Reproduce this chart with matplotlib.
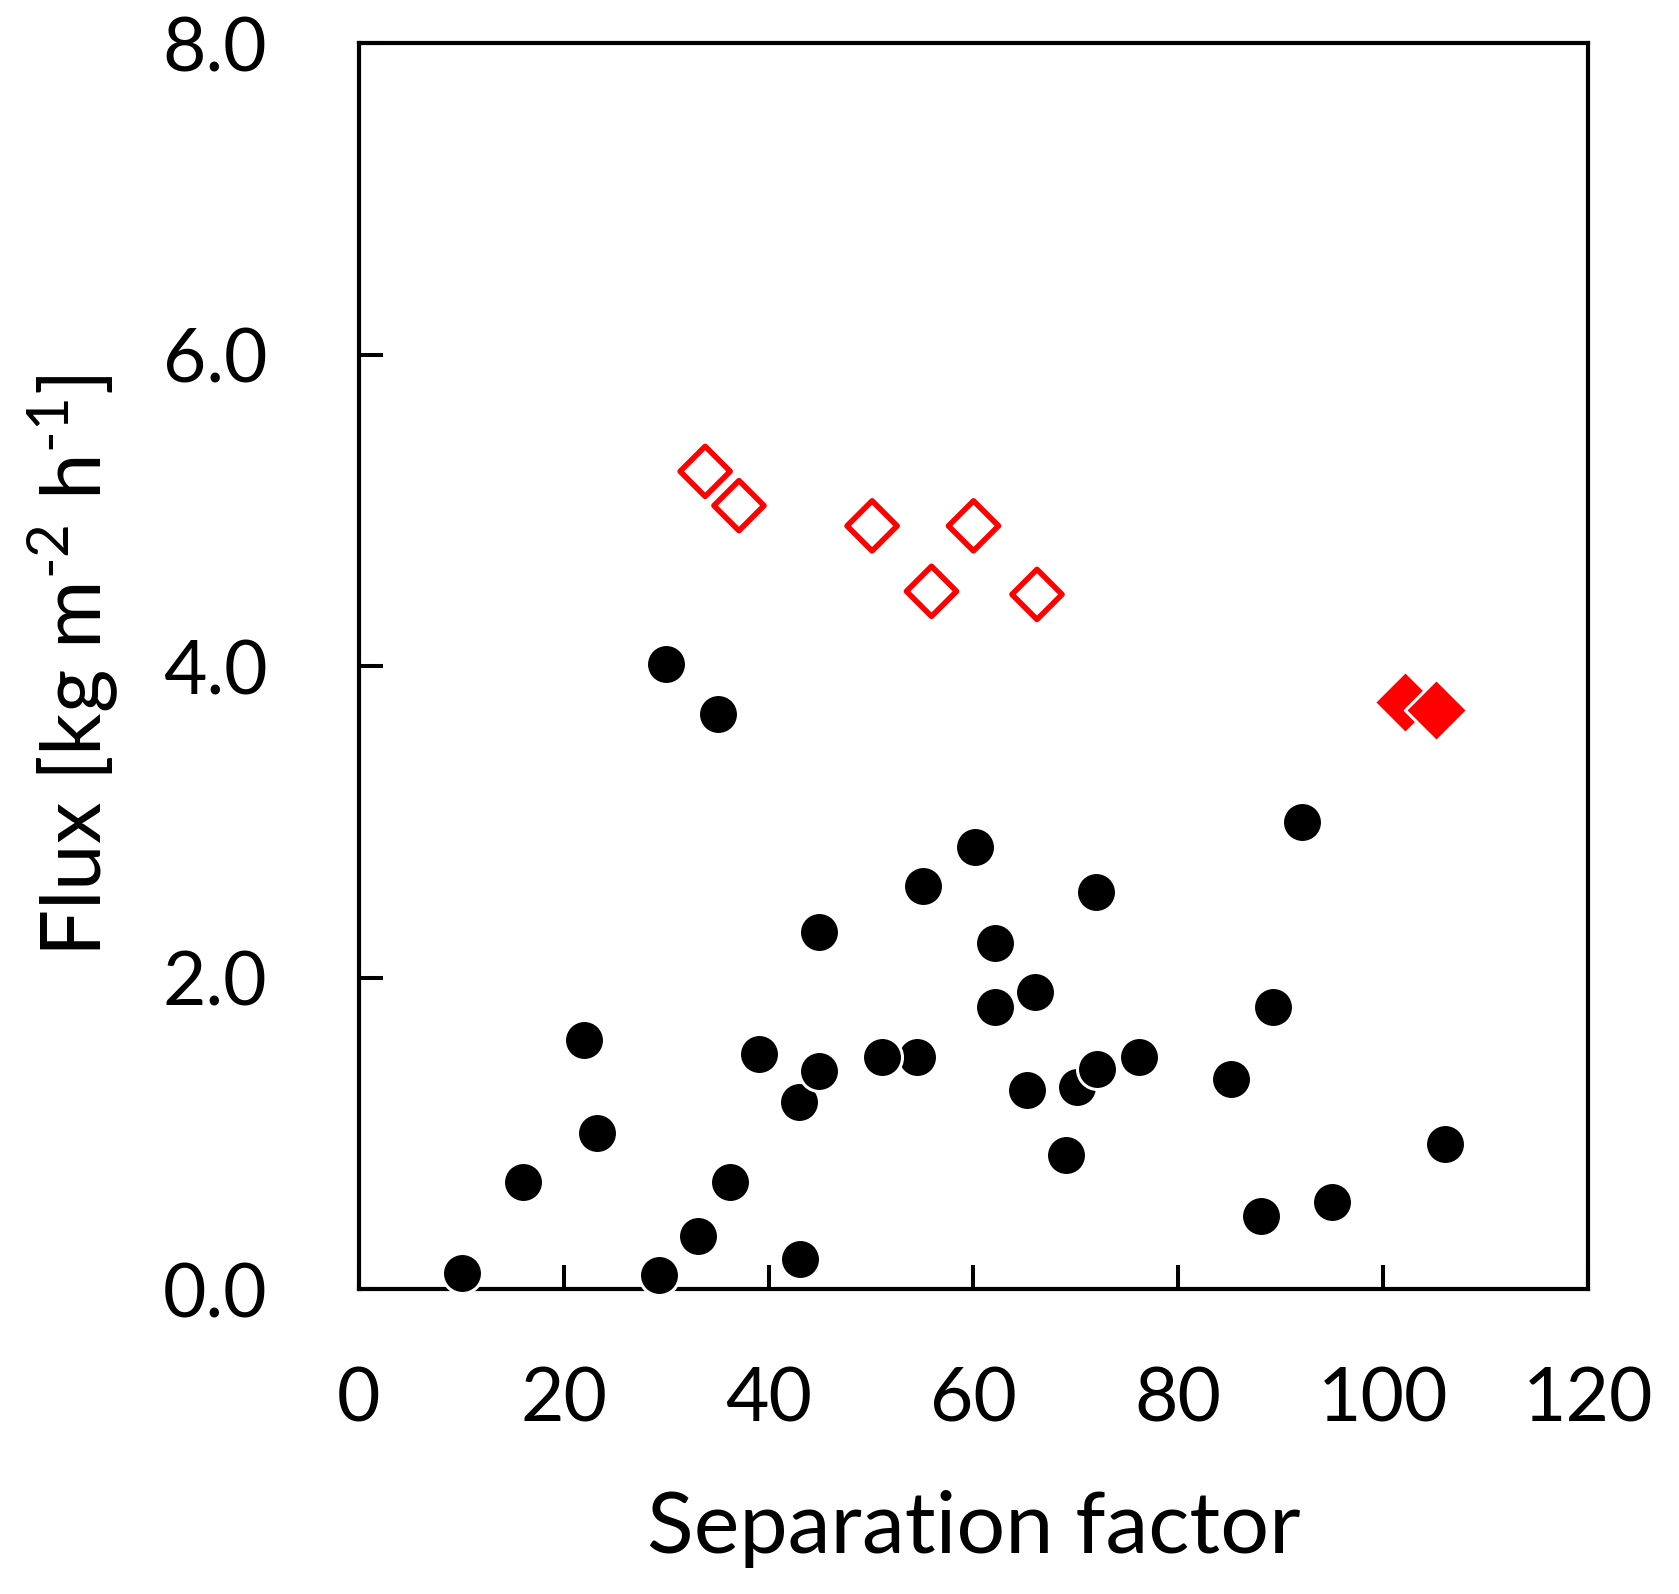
import matplotlib
matplotlib.use('Agg')
import matplotlib.pyplot as plt

# black circles (other membranes)
sep_autres = [10.1, 16.0, 22.0, 23.2, 29.3, 30.0, 33.1, 35.1, 36.2, 39.1, 43.0, 43.1, 44.9, 44.9,
              54.5, 51.1, 55.1, 60.1, 62.1, 62.1, 65.2, 66.0, 69.0, 70.1, 72.1, 72.0, 76.2,
              85.1, 88.1, 89.2, 92.1, 95.0, 106.0]
flux_autres = [0.10, 0.69, 1.60, 1.00, 0.09, 4.01, 0.34, 3.69, 0.69, 1.51, 1.20, 0.19, 1.40, 2.29,
               1.49, 1.49, 2.59, 2.84, 2.22, 1.81, 1.28, 1.91, 0.86, 1.30, 1.41, 2.55, 1.49,
               1.35, 0.47, 1.81, 3.00, 0.56, 0.93]

# red open diamonds
sep_ouvert = [33.8, 37.1, 50.1, 60.0, 55.9, 66.2]
flux_ouvert = [5.25, 5.03, 4.90, 4.90, 4.48, 4.46]

# red filled diamonds
sep_plein = [102.1, 105.2]
flux_plein = [3.77, 3.72]

plt.rcParams['font.family'] = 'Lato'
plt.rcParams['mathtext.fontset'] = 'custom'
plt.rcParams['mathtext.rm'] = 'Lato'

fig = plt.figure(figsize=(16.79, 15.94), dpi=100)
ax = fig.add_axes([0.2138, 0.1913, 0.7320, 0.7817])

# white edge so that overlapping markers stay separated, like the original
ax.scatter(sep_autres, flux_autres, s=28.8**2, c='black', edgecolors='white', linewidths=2.2,
           zorder=3, clip_on=False)
ax.scatter(sep_ouvert, flux_ouvert, s=25.5**2, marker='D', facecolors='none', edgecolors='red',
           linewidths=4.0, zorder=3, clip_on=False)
ax.scatter(sep_plein, flux_plein, s=31.7**2, marker='D', c='red', edgecolors='white',
           linewidths=2.2, zorder=3, clip_on=False)

ax.set_xlim(0, 120)
ax.set_ylim(0, 8)
ax.set_xticks(range(0, 121, 20))
ax.set_yticks([0, 2, 4, 6, 8])
ax.set_yticklabels(['0.0', '2.0', '4.0', '6.0', '8.0'])

for sp in ax.spines.values():
    sp.set_linewidth(3)
ax.tick_params(direction='in', length=17.3, width=2.9, labelsize=54)
ax.tick_params(axis='x', pad=55)
ax.tick_params(axis='y', pad=66)

ax.set_xlabel('Separation factor', fontsize=62, labelpad=40)
ax.set_ylabel('Flux [kg m$^{\\mathrm{\u20102}}$ h$^{\\mathrm{\u20101}}$]', fontsize=60, labelpad=30)

plt.savefig('out.png', dpi=100)
